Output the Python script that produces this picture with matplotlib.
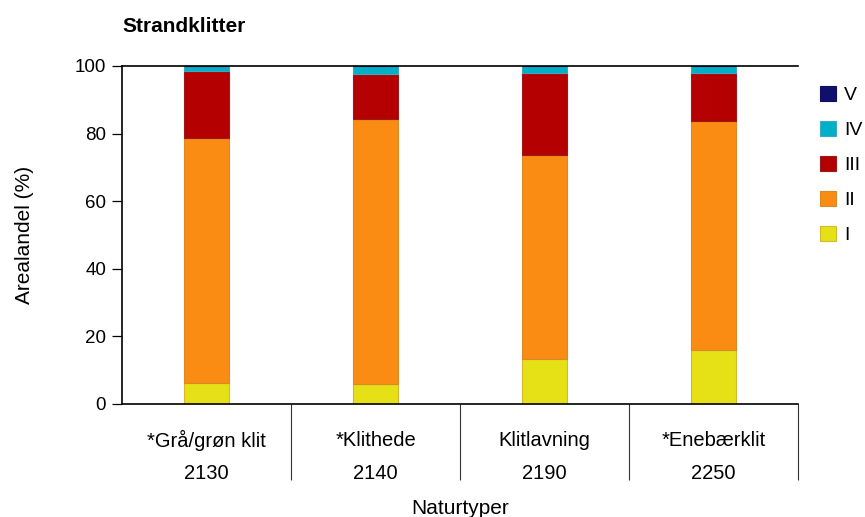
import matplotlib.pyplot as plt
from matplotlib.patches import Patch
import numpy as np

plt.rcParams['font.family'] = ['Liberation Sans', 'DejaVu Sans']

# data
names = ['*Grå/grøn klit', '*Klithede', 'Klitlavning', '*Enebærklit']
codes = ['2130', '2140', '2190', '2250']
classes = ['I', 'II', 'III', 'IV', 'V']
val_I = [6.2, 5.8, 13.2, 16.0]
val_II = [72.5, 78.4, 60.5, 67.8]
val_III = [19.7, 13.4, 24.3, 14.2]
val_IV = [1.6, 2.4, 2.0, 2.0]
val_V = [0.0, 0.0, 0.0, 0.0]
colors = ['#E6E016', '#FA8C14', '#B40000', '#00AFC8', '#0F0F6E']
edges = ['#D4B830', '#D88A28', '#9A1A1A', '#40A8C0', '#101060']

series = [val_I, val_II, val_III, val_IV, val_V]

fig = plt.figure(figsize=(8.65, 5.17), dpi=100)
ax = fig.add_axes([122/865, 1-404/517, 676/865, 338/517])

x = np.arange(len(names))
bottom = np.zeros(len(names))
for vals, c, ec in zip(series, colors, edges):
    ax.bar(x, vals, width=0.265, bottom=bottom, color=c, edgecolor=ec, linewidth=0.8)
    bottom += np.array(vals)

ax.set_xlim(-0.5, 3.5)
ax.set_ylim(0, 100)
ax.set_yticks([0, 20, 40, 60, 80, 100])
ax.tick_params(axis='y', labelsize=13.5, length=7, width=0.9, pad=4.5)

# category dividers as long minor ticks
ax.set_xticks([])
ax.set_xticks([0.5, 1.5, 2.5, 3.5], minor=True)
ax.tick_params(axis='x', which='minor', length=55, width=0.8, color='#333333')
ax.tick_params(axis='x', which='major', length=0)

ax.spines['right'].set_visible(False)
for s in ['left', 'bottom', 'top']:
    ax.spines[s].set_linewidth(1.2)

tr = ax.get_xaxis_transform()
for i, (n, c) in enumerate(zip(names, codes)):
    ax.text(i, -0.107, n, transform=tr, ha='center', va='center', fontsize=14.5)
    ax.text(i, -0.205, c, transform=tr, ha='center', va='center', fontsize=14.5)
ax.text(1.5, -0.31, 'Naturtyper', transform=tr, ha='center', va='center', fontsize=15)

ax.set_ylabel('Arealandel (%)', fontsize=15)
ax.yaxis.set_label_coords(-0.130, 0.5)
fig.text(122/865, 1-27/517, 'Strandklitter', fontsize=15, fontweight='bold', va='center', ha='left')

handles = [Patch(facecolor=c, edgecolor=ec, linewidth=0.8, label=l)
           for c, ec, l in zip(colors, edges, classes)][::-1]
fig.legend(handles=handles, loc='upper left', bbox_to_anchor=(820/865, 1-86/517),
           frameon=False, fontsize=14, handlelength=0.8, handleheight=0.8,
           handletextpad=0.45, labelspacing=0.86, borderpad=0, borderaxespad=0)

fig.savefig('out.png', dpi=100)
